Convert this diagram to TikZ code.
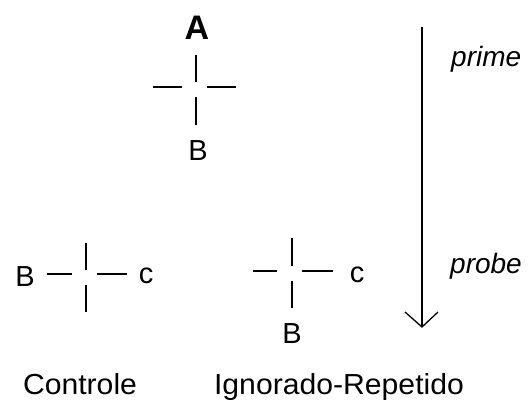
\documentclass[tikz,border=0pt]{standalone}
\usepackage{fontspec}
\setmainfont{Liberation Sans}
\usetikzlibrary{calc}
\begin{document}
\begin{tikzpicture}[x=1pt,y=-1pt,
  lbl/.style={inner sep=0pt,anchor=base,font=\fontsize{29}{29}\selectfont},
  ilbl/.style={inner sep=0pt,anchor=base west,font=\fontsize{28}{28}\selectfont\itshape},
  seg/.style={line width=1.6pt},
  arr/.style={line width=1.3pt}]
\useasboundingbox (0,0) rectangle (529,401);
% top cross
\node[inner sep=0pt,anchor=base,font=\fontsize{34}{34}\selectfont\bfseries] (A) at (197,40) {A};
\draw[seg] (196,55) -- (196,82) (196,97) -- (196,125) (153,87) -- (182,87) (207,87) -- (236,87);
\node[lbl] (B1) at (198,160) {B};
% left cross
\node[lbl] (B2) at (25,286) {B};
\draw[seg] (86,243) -- (86,270) (86,285) -- (86,312) (47,274) -- (72,274) (97,274) -- (127,274);
\node[lbl] (c1) at (146,283) {c};
% middle cross
\draw[seg] (292,238) -- (292,266) (292,281) -- (292,308) (253,271) -- (277,271) (302,271) -- (333,271);
\node[lbl] (c2) at (357,282) {c};
\node[lbl] (B3) at (292,343) {B};
% arrow
\coordinate (top) at (422,27);
\coordinate (tip) at (422,327);
\draw[arr] (top) -- (tip);
\draw[arr] ($(tip)+(-17,-15)$) -- (tip) -- ($(tip)+(16,-15)$);
\node[ilbl] (prime) at (451,67) {prime};
\node[ilbl] (probe) at (450,273) {probe};
% captions
\node[lbl,xscale=1.04] (ctrl) at (80,394) {Controle};
\node[lbl,xscale=1.04] (ign) at (339,394) {Ignorado-Repetido};
\end{tikzpicture}
\end{document}
